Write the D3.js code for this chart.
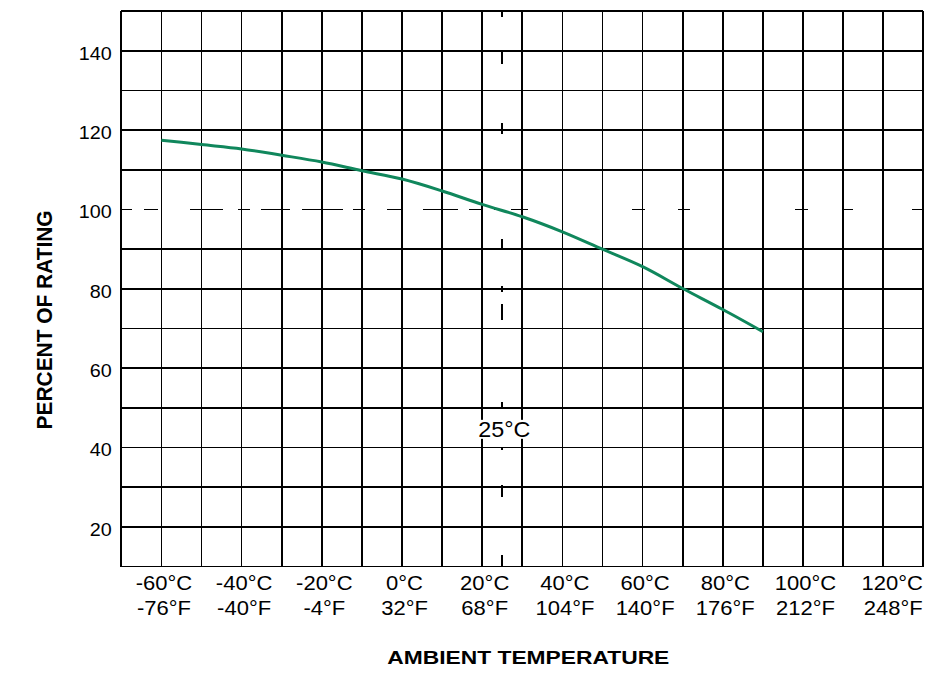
<!DOCTYPE html>
<html><head><meta charset="utf-8">
<script src="https://cdn.jsdelivr.net/npm/d3@7/dist/d3.min.js"></script>
<style>
body{margin:0;background:#fff;}
text{font-family:"Liberation Sans",Arial,Helvetica,sans-serif;fill:#000;}
</style>
</head><body>
<svg id="chart" width="950" height="683"></svg>
<script>
// ---- data ----
const tempC   = [-60, -50, -40, -30, -20, -10, 0, 10, 20, 30, 40, 50, 60, 70, 80, 90];
const percent = [117.5, 116.4, 115.3, 113.7, 112.0, 109.8, 107.7, 104.7, 101.3, 98.2, 94.4, 90.0, 85.6, 80.1, 74.8, 69.2];
const xTicksC = [-60, -40, -20, 0, 20, 40, 60, 80, 100, 120];
const xLabelsC = ["-60°C", "-40°C", "-20°C", "0°C", "20°C", "40°C", "60°C", "80°C", "100°C", "120°C"];
const xLabelsF = ["-76°F", "-40°F", "-4°F", "32°F", "68°F", "104°F", "140°F", "176°F", "212°F", "248°F"];
const yTicks = [20, 40, 60, 80, 100, 120, 140];
const refTemp = 25;      // dashed vertical reference
const refPercent = 100;  // dashed horizontal reference
// dash pieces of the reference lines as drawn in the original (data units)
const refHDashes = [[-69.9,-67.4],[-64.3,-60.8],[-52.8,-44.6],[-41.0,-37.9],[-35.2,-27.9],[-24.9,-14.8],[-12.3,-9.2],[-3.8,0],[5.2,14.0],[16.7,19.9],[22.9,24.8],[27.2,31.4],[57.4,60.6],[68.8,71.8],[98.0,101.2],[109.7,112.5],[127.1,130]];
const refVDashes = [[150,148.5],[139.8,136.7],[121.9,119.0],[92.7,89.8],[80.8,79.3],[76.1,72.1],[51.5,49.7],[40.2,39.4],[30.5,27.6],[12.8,10]];
const xTitle = "AMBIENT TEMPERATURE";
const yTitle = "PERCENT OF RATING";
const refLabel = "25°C";

// ---- layout ----
const svg = d3.select("#chart");
const x = d3.scaleLinear().domain([-70, 130]).range([121.3, 923.3]);
const y = d3.scaleLinear().domain([10, 150]).range([566.5, 11.3]);
const gridX = d3.range(-70, 131, 10);
const gridY = d3.range(10, 151, 10).filter(v => v !== refPercent);

function stretch(sel, k) {
  sel.each(function () {
    const len = this.getComputedTextLength();
    d3.select(this).attr("textLength", len * k).attr("lengthAdjust", "spacingAndGlyphs");
  });
}

const grid = svg.append("g").attr("stroke", "#000").attr("stroke-width", 1.7).attr("shape-rendering", "crispEdges");
grid.selectAll(".gx").data(gridX).join("line")
  .attr("x1", d => x(d)).attr("x2", d => x(d)).attr("y1", y(150)).attr("y2", y(10));
grid.selectAll(".gy").data(gridY).join("line")
  .attr("y1", d => y(d)).attr("y2", d => y(d)).attr("x1", x(-70)).attr("x2", x(130));
// reference dashes
grid.selectAll(".rh").data(refHDashes).join("line")
  .attr("x1", d => x(d[0])).attr("x2", d => x(d[1])).attr("y1", y(refPercent)).attr("y2", y(refPercent));
grid.selectAll(".rv").data(refVDashes).join("line")
  .attr("y1", d => y(d[0])).attr("y2", d => y(d[1])).attr("x1", x(refTemp)).attr("x2", x(refTemp));

// curve
const line = d3.line().x((d, i) => x(tempC[i])).y(d => y(d)).curve(d3.curveMonotoneX);
svg.append("path").datum(percent)
  .attr("d", line).attr("fill", "none").attr("stroke", "#10875c").attr("stroke-width", 3)
  .attr("stroke-linejoin", "round");

// 25°C label with white backing
const rl = svg.append("g");
const rlt = rl.append("text").attr("x", x(refTemp) + 2).attr("y", y(42.7))
  .attr("text-anchor", "middle").attr("font-size", 22).text(refLabel);
stretch(rlt, 1.06);
const bb = rlt.node().getBBox();
rl.insert("rect", "text").attr("x", bb.x - 1).attr("y", bb.y + 3).attr("width", bb.width + 2).attr("height", bb.height - 6).attr("fill", "#fff");

// y axis
const yAxis = svg.append("g").attr("transform", `translate(${x(-70)},0)`)
  .call(d3.axisLeft(y).tickValues(yTicks).tickSize(0).tickPadding(9.6));
yAxis.select(".domain").remove();
yAxis.selectAll("text").attr("font-size", 19).attr("font-family", null).attr("dy", "0.44em");
stretch(yAxis.selectAll("text"), 1.04);

// x axis: °C and °F rows
function xRow(labels, baseline) {
  const g = svg.append("g").attr("transform", `translate(0,${y(10)})`)
    .call(d3.axisBottom(x).tickValues(xTicksC).tickSize(0).tickFormat((d, i) => labels[i]));
  g.select(".domain").remove();
  g.selectAll("text").attr("font-size", 20).attr("font-family", null)
    .attr("y", baseline - y(10)).attr("dy", 0).attr("dx", 2);
  stretch(g.selectAll("text"), 1.1);
  // last label right-aligned to the frame edge
  g.selectAll(".tick").filter((d, i) => i === xTicksC.length - 1).select("text")
    .attr("text-anchor", "end").attr("dx", x(130) - x(120) - 1);
  return g;
}
xRow(xLabelsC, 589.5);
xRow(xLabelsF, 614.5);

// titles
const xt = svg.append("text").attr("x", (x(-70) + x(130)) / 2 + 6).attr("y", 663.5)
  .attr("text-anchor", "middle").attr("font-weight", "bold").attr("font-size", 19).text(xTitle);
stretch(xt, 1.2);
const yt = svg.append("text").attr("transform", `translate(52,${(y(10) + y(150)) / 2 + 31}) rotate(-90)`)
  .attr("text-anchor", "middle").attr("font-weight", "bold").attr("font-size", 22).text(yTitle);
stretch(yt, 0.95);
</script>
</body></html>
